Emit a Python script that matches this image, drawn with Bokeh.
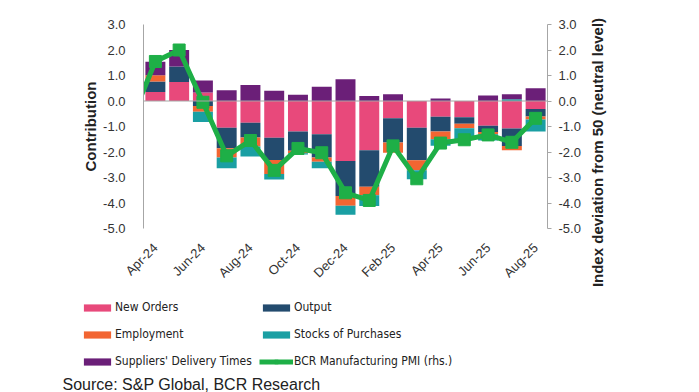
import numpy as np
from bokeh.plotting import figure
from bokeh.layouts import column, row
from bokeh.models import (ColumnDataSource, Range1d, LinearAxis, FixedTicker,
                          NumeralTickFormatter, Span, Legend, LegendItem, Label)
from bokeh.embed import file_html
from bokeh.resources import INLINE

months = ["Apr-24", "May-24", "Jun-24", "Jul-24", "Aug-24", "Sep-24", "Oct-24", "Nov-24",
          "Dec-24", "Jan-25", "Feb-25", "Mar-25", "Apr-25", "May-25", "Jun-25", "Jul-25", "Aug-25"]
new_orders = [0.35, 0.75, 0.33, -1.05, -0.85, -1.44, -1.20, -1.30, -2.35, -1.93, -0.68, -1.05, -0.62, -0.64, -0.97, -1.08, -0.31]
output = [0.41, 0.60, -0.20, -0.80, -0.58, -0.87, -0.75, -0.92, -1.38, -1.43, -0.95, -1.27, -0.58, -0.25, -0.25, -0.68, -0.30]
employment = [0.25, 0.0, -0.22, -0.37, -0.35, -0.55, -0.10, -0.16, -0.38, -0.34, -0.40, -0.40, -0.30, -0.18, -0.08, -0.17, -0.12]
stocks = [0.0, 0.0, -0.40, -0.42, -0.40, -0.22, -0.05, -0.26, -0.35, -0.42, 0.0, -0.35, -0.25, -0.43, -0.25, 0.07, -0.47]
suppliers = [0.53, 0.65, 0.47, 0.42, 0.63, 0.40, 0.25, 0.56, 0.85, 0.20, 0.26, 0.0, 0.10, 0.0, 0.22, 0.19, 0.50]
# PMI deviation from 50 (rhs); first value is Mar-24, just left of the visible window
pmi_months = ["Mar-24"] + months
pmi = [-0.70, 1.55, 2.00, -0.05, -2.15, -1.55, -2.72, -1.86, -2.03, -3.60, -3.90, -1.76, -3.05, -1.65, -1.52, -1.33, -1.62, -0.68]
tick_labels = ["Apr-24", "Jun-24", "Aug-24", "Oct-24", "Dec-24", "Feb-25", "Apr-25", "Jun-25", "Aug-25"]
y_ticks = [3.0, 2.0, 1.0, 0.0, -1.0, -2.0, -3.0, -4.0, -5.0]

series = [("New Orders", new_orders, "#E8497B"),
          ("Output", output, "#234B6E"),
          ("Employment", employment, "#F26532"),
          ("Stocks of Purchases", stocks, "#1A9FA3"),
          ("Suppliers' Delivery Times", suppliers, "#6B1F78")]
PMI_NAME = "BCR Manufacturing PMI (rhs.)"
PMI_COLOR = "#1EAF47"

FONT = "Liberation Sans"
NARROW = "Liberation Sans Narrow, Arial Narrow, Noto Sans Condensed, DejaVu Sans Condensed, Liberation Sans"

p = figure(width=590, height=296, output_backend="svg", toolbar_location=None,
           x_range=Range1d(-0.5, 16.5), y_range=Range1d(-5, 3),
           min_border_left=143, min_border_right=43, min_border_top=24, min_border_bottom=68)
p.frame_align = False
p.outline_line_color = None
p.grid.visible = False
p.extra_y_ranges = {"rhs": Range1d(-5, 3)}

x = np.arange(len(months))
pos_base = np.zeros(len(months))
neg_base = np.zeros(len(months))
for name, vals, color in series:
    v = np.array(vals, dtype=float)
    bottom = np.where(v >= 0, pos_base, neg_base)
    top = bottom + v
    pos_base = np.where(v >= 0, top, pos_base)
    neg_base = np.where(v < 0, top, neg_base)
    src = ColumnDataSource(dict(x=x, bottom=bottom, top=top))
    p.vbar(x="x", bottom="bottom", top="top", width=0.84, source=src,
           fill_color=color, line_color=None)

p.add_layout(Span(location=0, dimension="width", line_color="#A6A6A6", line_width=1.2))

pmi_src = ColumnDataSource(dict(x=np.arange(len(pmi_months)) - 1, y=pmi))
p.line(x="x", y="y", source=pmi_src, line_color=PMI_COLOR, line_width=5, y_range_name="rhs")
p.scatter(x="x", y="y", source=pmi_src, marker="square", size=12, fill_color=PMI_COLOR,
          line_color=PMI_COLOR, y_range_name="rhs")

# x axis
xa = p.xaxis[0]
xa.ticker = FixedTicker(ticks=[months.index(m) for m in tick_labels])
xa.major_label_overrides = {months.index(m): m for m in tick_labels}
xa.major_label_orientation = np.pi / 4
xa.axis_line_color = None
xa.major_tick_line_color = None
xa.minor_tick_line_color = None
xa.major_label_text_font = FONT
xa.major_label_text_font_size = "13px"
xa.major_label_text_color = "#333333"
xa.major_label_standoff = 11

# left axis
ya = p.yaxis[0]
ya.ticker = FixedTicker(ticks=y_ticks)
ya.formatter = NumeralTickFormatter(format="0.0")
ya.axis_line_color = "#A6A6A6"
ya.major_tick_line_color = None
ya.minor_tick_line_color = None
ya.major_label_text_font = FONT
ya.major_label_text_font_size = "13px"
ya.major_label_text_color = "#333333"
ya.major_label_standoff = 12
ya.axis_label = "Contribution"
ya.axis_label_text_font = FONT
ya.axis_label_text_font_style = "bold"
ya.axis_label_text_font_size = "15px"
ya.axis_label_text_color = "#222222"
ya.axis_label_standoff = 1

# right axis (ticks and numbers; its title is drawn in the side panel)
ra = LinearAxis(y_range_name="rhs", ticker=FixedTicker(ticks=y_ticks),
                formatter=NumeralTickFormatter(format="0.0"))
ra.axis_line_color = "#A6A6A6"
ra.major_tick_line_color = "#A6A6A6"
ra.major_tick_out = 4
ra.major_tick_in = 0
ra.minor_tick_line_color = None
ra.major_label_text_font = FONT
ra.major_label_text_font_size = "13px"
ra.major_label_text_color = "#333333"
ra.major_label_standoff = 7
p.add_layout(ra, "right")

# side panel with the right-axis title, reading bottom to top
rt = figure(width=109, height=296, output_backend="svg", toolbar_location=None,
            x_range=Range1d(0, 1), y_range=Range1d(0, 1),
            x_axis_location=None, y_axis_location=None, min_border=0)
rt.frame_align = False
rt.outline_line_color = None
rt.grid.visible = False
rt.add_layout(Label(x=7, y=144, x_units="screen", y_units="screen", angle=np.pi / 2,
                    text="Index deviation from 50 (neutral level)", text_font=FONT,
                    text_font_style="bold", text_font_size="15px", text_color="#222222",
                    text_align="center", text_baseline="middle"))

# legend panel below the chart
lg = figure(width=699, height=96, output_backend="svg", toolbar_location=None,
            x_range=Range1d(0, 1), y_range=Range1d(0, 1),
            x_axis_location=None, y_axis_location=None, min_border=0)
lg.frame_align = False
lg.outline_line_color = None
lg.grid.visible = False
rend = {}
for name, vals, color in series:
    rend[name] = [lg.vbar(x=[np.nan], top=[np.nan], width=0.8, fill_color=color, line_color=None)]
rend[PMI_NAME] = [lg.line(x=[np.nan], y=[np.nan], line_color=PMI_COLOR, line_width=5),
                  lg.scatter(x=[np.nan], y=[np.nan], marker="square", size=8,
                             fill_color=PMI_COLOR, line_color=PMI_COLOR)]
# legend fills column by column: left column first, then right column
order = ["New Orders", "Employment", "Suppliers' Delivery Times",
         "Output", "Stocks of Purchases", PMI_NAME]
items = [LegendItem(label=n, renderers=rend[n]) for n in order]
legend = Legend(items=items, ncols=2, location=(80, 21),
                glyph_width=34, glyph_height=9, label_standoff=1,
                label_width=137, label_height=20, spacing=7, padding=0, margin=0,
                border_line_color=None, background_fill_alpha=0,
                label_text_font=NARROW, label_text_font_size="12px",
                label_text_color="#222222")
lg.add_layout(legend, "center")
lg.add_layout(Label(x=62, y=0, x_units="screen", y_units="screen",
                    text="Source: S&P Global, BCR Research", text_font=FONT,
                    text_font_size="16px", text_color="#222222", text_baseline="bottom"))

layout = column(row(p, rt, spacing=0), lg, spacing=0)
open("out.html", "w").write(file_html(layout, INLINE))
